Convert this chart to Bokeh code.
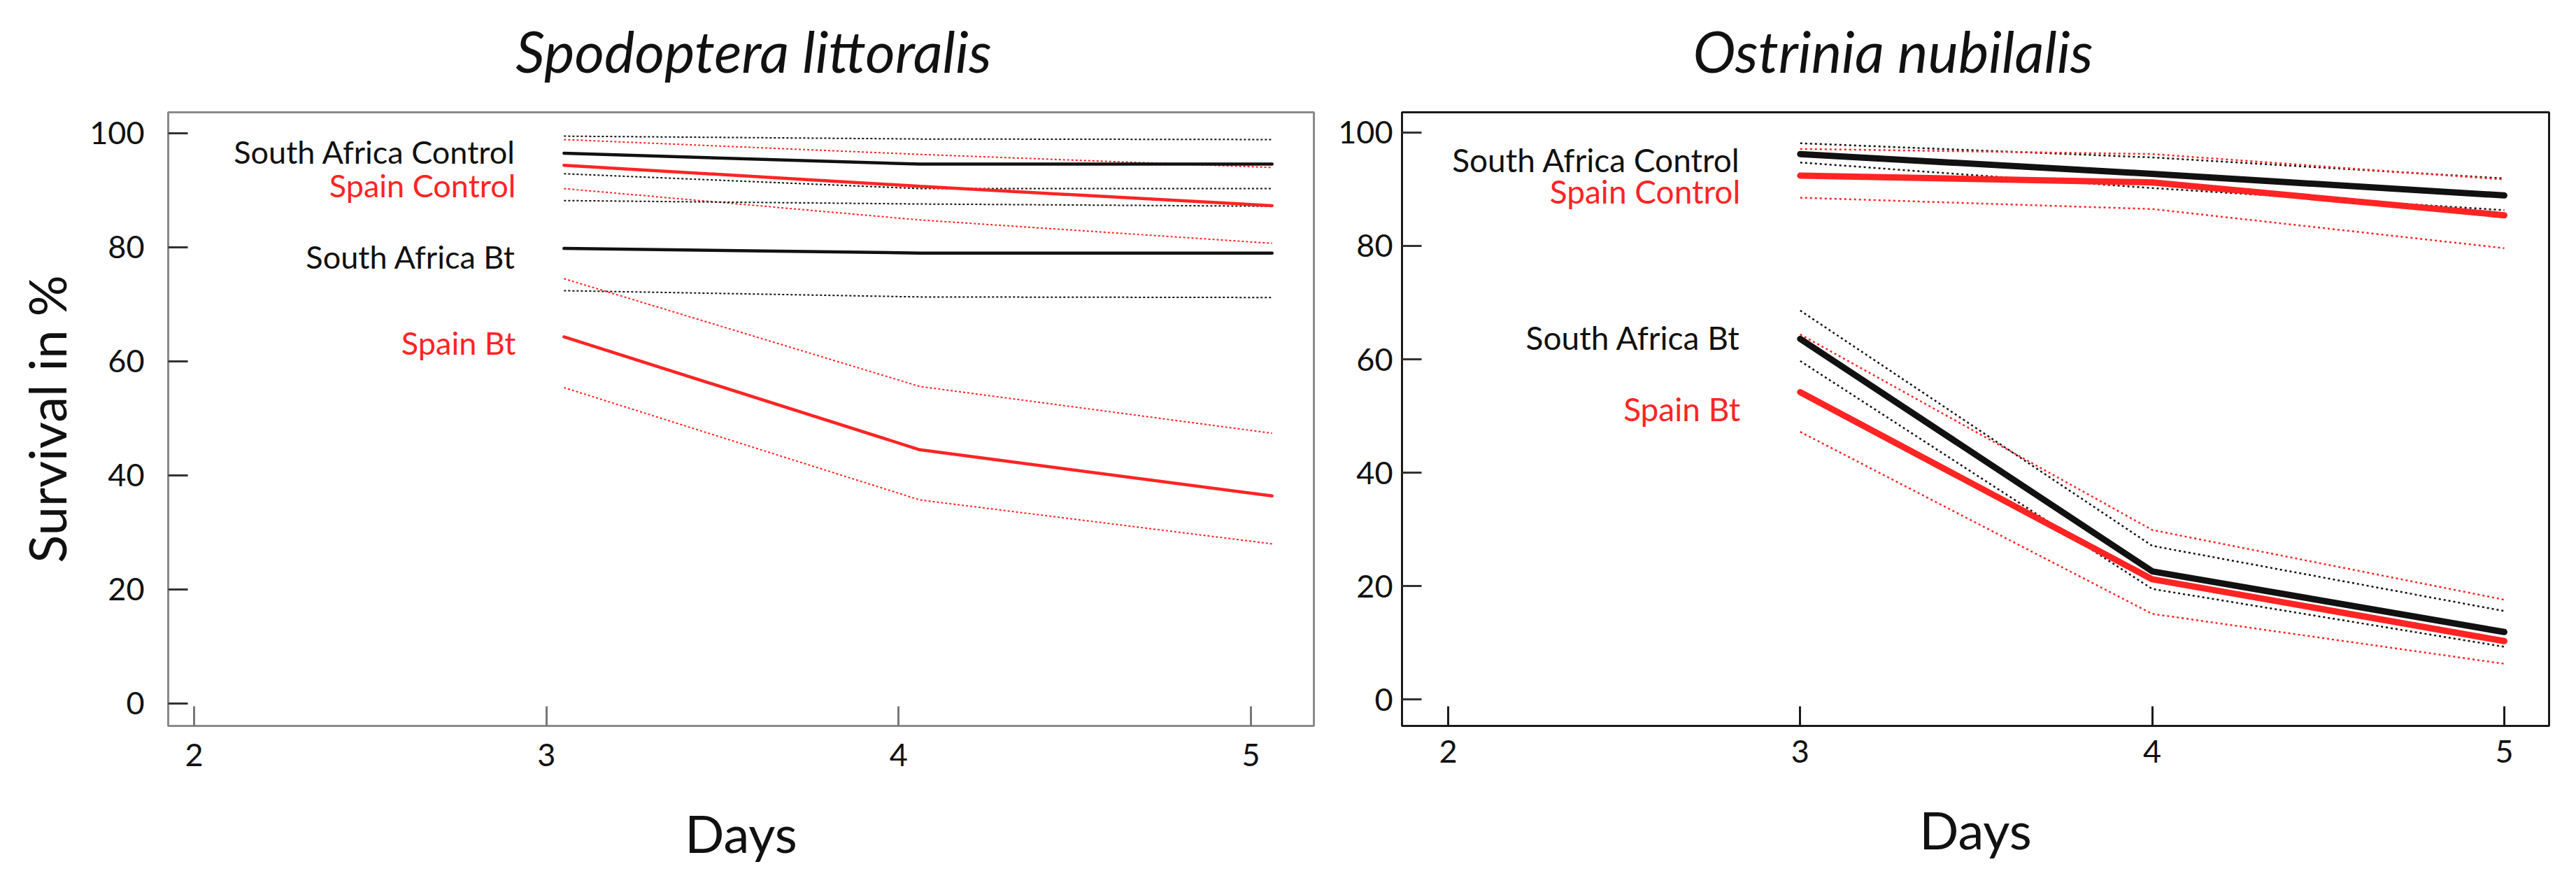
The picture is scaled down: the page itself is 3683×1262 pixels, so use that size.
from bokeh.plotting import figure
from bokeh.layouts import row, column
from bokeh.models import FixedTicker, Range1d
from bokeh.core.properties import value
from bokeh.embed import file_html
from bokeh.resources import INLINE

# ---------------- data ----------------
tick_days = [2, 3, 4, 5]
tick_surv = [0, 20, 40, 60, 80, 100]

panel_titles = ["Spodoptera littoralis", "Ostrinia nubilalis"]

# Spodoptera littoralis (lines drawn slightly right of the day ticks)
spo_days = [3.05, 4.06, 5.06]
spo_sa_ctrl = [96.5, 94.6, 94.6]
spo_sa_ctrl_hi = [99.5, 99.0, 98.9]
spo_sa_ctrl_lo = [92.9, 90.3, 90.3]
spo_sp_ctrl = [94.4, 90.7, 87.3]
spo_sp_ctrl_hi = [98.9, 96.3, 94.0]
spo_sp_ctrl_lo = [90.3, 84.8, 80.7]
spo_sa_bt = [79.8, 79.0, 79.0]
spo_sa_bt_hi = [88.2, 87.6, 87.2]
spo_sa_bt_lo = [72.4, 71.3, 71.2]
spo_sp_bt = [64.3, 44.5, 36.4]
spo_sp_bt_hi = [74.5, 55.6, 47.4]
spo_sp_bt_lo = [55.4, 35.7, 28.0]

# Ostrinia nubilalis
ost_days = [3, 4, 5]
ost_sa_ctrl = [96.2, 92.7, 88.9]
ost_sa_ctrl_hi = [98.1, 95.6, 91.9]
ost_sa_ctrl_lo = [94.7, 90.2, 86.3]
ost_sp_ctrl = [92.4, 91.2, 85.4]
ost_sp_ctrl_hi = [97.1, 96.2, 91.7]
ost_sp_ctrl_lo = [88.5, 86.5, 79.6]
ost_sa_bt = [63.6, 22.6, 11.9]
ost_sa_bt_hi = [68.6, 27.1, 15.6]
ost_sa_bt_lo = [59.7, 19.5, 9.3]
ost_sp_bt = [54.2, 21.2, 10.3]
ost_sp_bt_hi = [64.4, 29.9, 17.6]
ost_sp_bt_lo = [47.2, 15.1, 6.3]

group_names = ["South Africa Control", "Spain Control", "South Africa Bt", "Spain Bt"]
spo_label_y = [96.7, 90.9, 78.3, 63.2]
ost_label_y = [95.2, 89.6, 63.8, 51.3]

# ---------------- style ----------------
FONT = "Lato"
BLACK = "#111111"
RED = "#ff2424"
group_colors = [BLACK, RED, BLACK, RED]

W1, W2 = 1892, 1775
TITLE_H = 156
H = 1088


def title_strip(width, text, cx):
    t = figure(width=width, height=TITLE_H, x_range=Range1d(0, width),
               y_range=Range1d(0, TITLE_H), output_backend="svg", toolbar_location=None,
               x_axis_location=None, y_axis_location=None, title=None,
               min_border_left=0, min_border_right=0, min_border_top=0,
               min_border_bottom=0)
    t.grid.visible = False
    t.outline_line_color = None
    t.background_fill_color = "white"
    t.border_fill_color = "white"
    t.text(x=[cx], y=[TITLE_H - 71], text=[text], text_color=BLACK,
           text_font=value(FONT), text_font_size="82px", text_font_style="italic",
           text_align="center", text_baseline="alphabetic")
    return t


def make_panel(width, height, xr, yr, borders, frame_color, tick_x_color,
               y_label, x_std, y_std):
    p = figure(width=width, height=height, x_range=Range1d(*xr), y_range=Range1d(*yr),
               output_backend="svg", toolbar_location=None, title=None,
               min_border_left=borders[0], min_border_right=borders[1],
               min_border_top=borders[2], min_border_bottom=borders[3])
    p.grid.visible = False
    p.background_fill_color = "white"
    p.border_fill_color = "white"
    p.outline_line_color = frame_color
    p.outline_line_width = 3
    for ax in (p.xaxis[0], p.yaxis[0]):
        ax.axis_line_color = None
        ax.major_tick_in = 28
        ax.major_tick_out = 0
        ax.minor_tick_line_color = None
        ax.major_tick_line_width = 3
        ax.major_label_text_font = FONT
        ax.major_label_text_font_size = "45px"
        ax.major_label_text_color = BLACK
        ax.axis_label_text_font = FONT
        ax.axis_label_text_font_style = "normal"
        ax.axis_label_text_font_size = "74px"
        ax.axis_label_text_color = BLACK
    p.xaxis.ticker = FixedTicker(ticks=tick_days)
    p.yaxis.ticker = FixedTicker(ticks=tick_surv)
    p.xaxis.major_tick_line_color = tick_x_color
    p.yaxis.major_tick_line_color = "#333333"
    p.xaxis.major_label_standoff = x_std
    p.yaxis.major_label_standoff = y_std
    p.xaxis.axis_label = "Days"
    p.xaxis.axis_label_standoff = 48
    if y_label:
        p.yaxis.axis_label = y_label
        p.yaxis.axis_label_standoff = 14
    return p


def draw(p, days, series, mean_w, ci_w, dash):
    for mean, hi, lo, col in series:
        p.line(days, hi, line_color=col, line_width=ci_w, line_dash=dash)
        p.line(days, lo, line_color=col, line_width=ci_w, line_dash=dash)
    for mean, hi, lo, col in series:
        p.line(days, mean, line_color=col, line_width=mean_w, line_cap="round")


# ---------------- left panel ----------------
p1 = make_panel(W1, H, (1.9265, 5.1787), (-3.93, 103.68), (240, 14, 4, 207),
                "#8a8a8a", "#777777", "Survival in %", 25, 34)
draw(p1, spo_days, [
    (spo_sa_ctrl, spo_sa_ctrl_hi, spo_sa_ctrl_lo, BLACK),
    (spo_sp_ctrl, spo_sp_ctrl_hi, spo_sp_ctrl_lo, RED),
    (spo_sa_bt, spo_sa_bt_hi, spo_sa_bt_lo, BLACK),
    (spo_sp_bt, spo_sp_bt_hi, spo_sp_bt_lo, RED),
], 4.5, 2, "3 3")
p1.text(x=[2.913] * 4, y=spo_label_y, text=group_names, text_color=group_colors,
        text_font=value(FONT), text_font_size="45px", text_align="right",
        text_baseline="alphabetic")

# ---------------- right panel ----------------
p2 = make_panel(W2, H, (1.8689, 5.1272), (-4.66, 103.56), (112, 23, 4, 202),
                "#1a1a1a", "#1a1a1a", None, 20, 13)
draw(p2, ost_days, [
    (ost_sa_ctrl, ost_sa_ctrl_hi, ost_sa_ctrl_lo, BLACK),
    (ost_sp_ctrl, ost_sp_ctrl_hi, ost_sp_ctrl_lo, RED),
    (ost_sa_bt, ost_sa_bt_hi, ost_sa_bt_lo, BLACK),
    (ost_sp_bt, ost_sp_bt_hi, ost_sp_bt_lo, RED),
], 9, 2.5, "3 4")
p2.text(x=[2.83] * 4, y=ost_label_y, text=group_names, text_color=group_colors,
        text_font=value(FONT), text_font_size="46px", text_align="right",
        text_baseline="alphabetic")

t1 = title_strip(W1, panel_titles[0], 1077)
t2 = title_strip(W2, panel_titles[1], 814)

layout = column(row(t1, t2), row(p1, p2))
open("out.html", "w").write(file_html(layout, INLINE))
